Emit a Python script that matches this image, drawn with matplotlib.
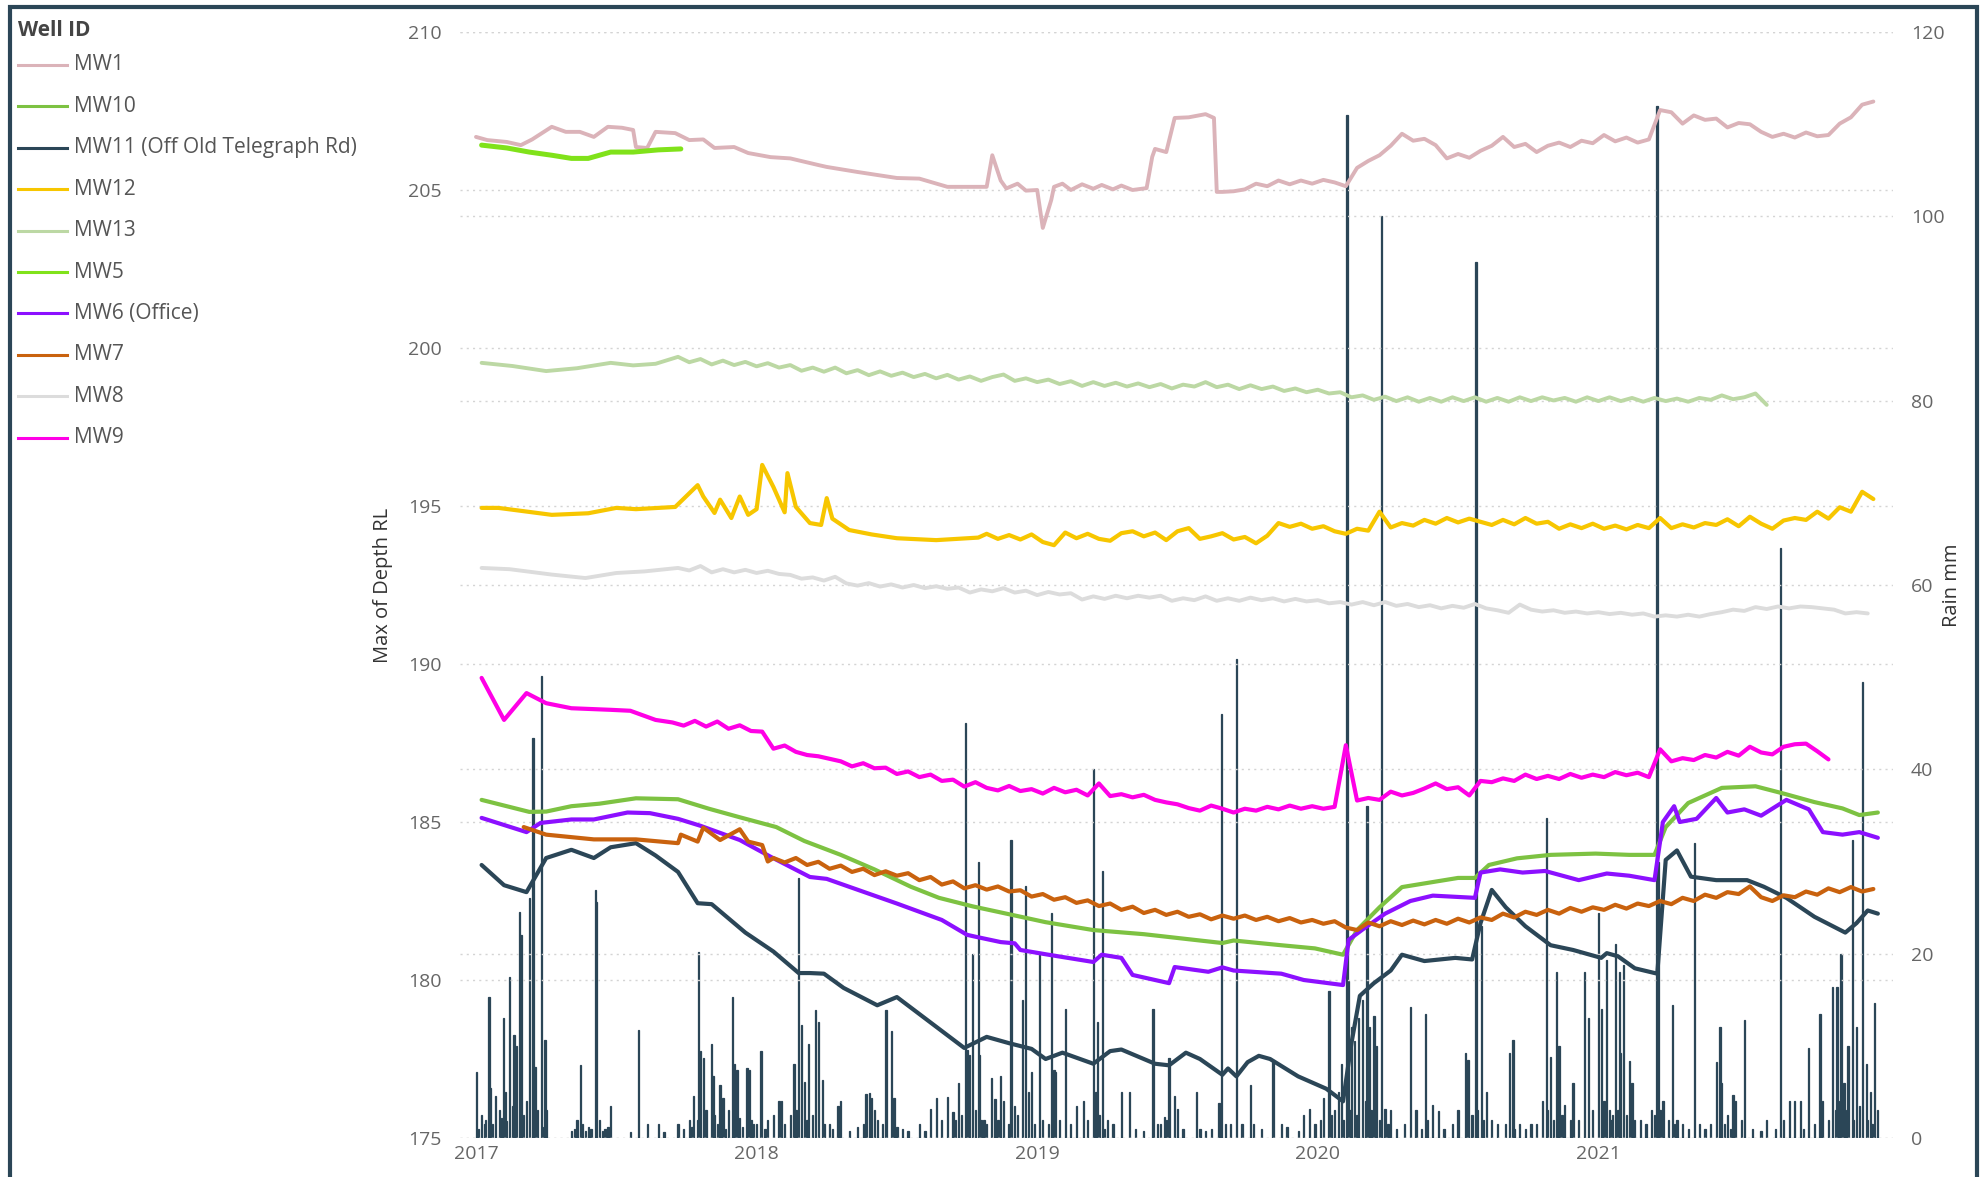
import numpy as np
import matplotlib
matplotlib.use("Agg")
import matplotlib.pyplot as plt
from matplotlib.lines import Line2D
from matplotlib.patches import Rectangle

W, H = 1982, 1177
STEP = 0.04  # logger readings about every two weeks, in years

# groundwater level (Max of Depth RL) per well, time in decimal years.
# *_t/*_v are the irregular readings, *_wk are the regular readings from *_start on.
mw1_t = [2017.0, 2017.04, 2017.11, 2017.16, 2017.2, 2017.27, 2017.32, 2017.37, 2017.42, 2017.47,
         2017.52, 2017.56, 2017.57, 2017.61, 2017.64, 2017.71, 2017.76, 2017.81, 2017.85, 2017.92,
         2017.97, 2018.05, 2018.12, 2018.22, 2018.25, 2018.36, 2018.5, 2018.58, 2018.68, 2018.82,
         2018.84, 2018.87, 2018.89, 2018.93, 2018.96, 2019.0, 2019.02, 2019.05, 2019.06, 2019.09,
         2019.12, 2019.16, 2019.2, 2019.23, 2019.27, 2019.3, 2019.34, 2019.39, 2019.41, 2019.42,
         2019.46, 2019.49, 2019.54, 2019.6, 2019.63, 2019.64]
mw1_v = [206.68, 206.58, 206.52, 206.42, 206.6, 207.0, 206.84, 206.84, 206.68, 207.0,
         206.97, 206.9, 206.36, 206.33, 206.84, 206.8, 206.58, 206.6, 206.33, 206.36,
         206.17, 206.04, 206.0, 205.79, 205.73, 205.57, 205.38, 205.36, 205.1, 205.1,
         206.1, 205.3, 205.05, 205.2, 204.98, 205.0, 203.8, 204.68, 205.1, 205.2,
         205.0, 205.18, 205.04, 205.16, 205.02, 205.14, 205.0, 205.06, 206.05, 206.3,
         206.2, 207.28, 207.3, 207.4, 207.28, 204.94]
mw1_start = 2019.66
mw1_wk = [204.94, 204.96, 205.02, 205.2, 205.12, 205.3, 205.18, 205.3, 205.2, 205.32,
          205.24, 205.12, 205.7, 205.92, 206.1, 206.4, 206.78, 206.56, 206.62, 206.42,
          206.0, 206.14, 206.02, 206.24, 206.4, 206.68, 206.36, 206.46, 206.2, 206.4,
          206.5, 206.36, 206.56, 206.48, 206.74, 206.54, 206.66, 206.5, 206.6, 207.53,
          207.46, 207.1, 207.36, 207.22, 207.26, 206.98, 207.12, 207.08, 206.84, 206.68,
          206.78, 206.66, 206.82, 206.7, 206.74, 207.1, 207.3, 207.7, 207.8]

mw5_t = [2017.02, 2017.11, 2017.19, 2017.27, 2017.34, 2017.4, 2017.48, 2017.56, 2017.65, 2017.73]
mw5_v = [206.42, 206.33, 206.2, 206.1, 206.0, 206.0, 206.2, 206.2, 206.27, 206.3]

mw13_t = [2017.02, 2017.13, 2017.25, 2017.36, 2017.48, 2017.56, 2017.64]
mw13_v = [199.53, 199.43, 199.27, 199.36, 199.53, 199.45, 199.5]
mw13_start = 2017.72
mw13_wk = [199.72, 199.55, 199.65, 199.48, 199.6, 199.46, 199.56, 199.42, 199.52, 199.38,
           199.46, 199.28, 199.38, 199.25, 199.38, 199.2, 199.3, 199.14, 199.26, 199.12,
           199.22, 199.08, 199.18, 199.04, 199.15, 199.0, 199.1, 198.96, 199.08, 199.16,
           198.96, 199.04, 198.92, 199.0, 198.86, 198.95, 198.8, 198.92, 198.8, 198.9,
           198.78, 198.88, 198.76, 198.86, 198.72, 198.84, 198.78, 198.92, 198.76, 198.84,
           198.7, 198.82, 198.7, 198.78, 198.64, 198.72, 198.6, 198.68, 198.56, 198.6,
           198.44, 198.5, 198.36, 198.46, 198.32, 198.44, 198.3, 198.42, 198.3, 198.44,
           198.32, 198.44, 198.3, 198.42, 198.3, 198.44, 198.32, 198.44, 198.34, 198.42,
           198.3, 198.44, 198.32, 198.44, 198.32, 198.42, 198.3, 198.42, 198.32, 198.4,
           198.3, 198.42, 198.36, 198.5, 198.38, 198.44, 198.56, 198.2]

mw12_t = [2017.02, 2017.08, 2017.27, 2017.4, 2017.5, 2017.57, 2017.71, 2017.79, 2017.81, 2017.85,
          2017.87, 2017.91, 2017.94, 2017.97, 2018.0, 2018.02, 2018.06, 2018.1, 2018.11, 2018.14,
          2018.19, 2018.23, 2018.25, 2018.27, 2018.33, 2018.41, 2018.5, 2018.64, 2018.79]
mw12_v = [194.94, 194.94, 194.72, 194.77, 194.94, 194.9, 194.97, 195.66, 195.3, 194.78,
          195.2, 194.62, 195.3, 194.72, 194.9, 196.3, 195.6, 194.8, 196.04, 194.97,
          194.46, 194.4, 195.25, 194.6, 194.24, 194.1, 193.98, 193.92, 194.0]
mw12_start = 2018.82
mw12_wk = [194.12, 193.96, 194.08, 193.94, 194.1, 193.86, 193.76, 194.16, 193.98, 194.12,
           193.96, 193.9, 194.14, 194.2, 194.04, 194.16, 193.92, 194.2, 194.3, 193.96,
           194.04, 194.14, 193.94, 194.02, 193.82, 194.06, 194.46, 194.34, 194.44, 194.28,
           194.36, 194.2, 194.12, 194.28, 194.22, 194.82, 194.32, 194.46, 194.38, 194.56,
           194.44, 194.62, 194.48, 194.6, 194.5, 194.4, 194.56, 194.42, 194.62, 194.44,
           194.5, 194.28, 194.42, 194.3, 194.44, 194.28, 194.38, 194.26, 194.4, 194.3,
           194.62, 194.3, 194.42, 194.32, 194.46, 194.4, 194.58, 194.36, 194.66, 194.44,
           194.28, 194.54, 194.62, 194.56, 194.82, 194.6, 194.96, 194.82, 195.45, 195.22]

mw8_t = [2017.02, 2017.12, 2017.27, 2017.39, 2017.5, 2017.6]
mw8_v = [193.04, 193.0, 192.83, 192.72, 192.88, 192.93]
mw8_start = 2017.72
mw8_wk = [193.04, 192.96, 193.1, 192.9, 193.0, 192.9, 192.98, 192.88, 192.95, 192.85,
          192.82, 192.7, 192.74, 192.64, 192.76, 192.55, 192.48, 192.56, 192.45, 192.52,
          192.42, 192.5, 192.4, 192.46, 192.38, 192.42, 192.26, 192.36, 192.3, 192.4,
          192.26, 192.32, 192.18, 192.28, 192.2, 192.24, 192.04, 192.14, 192.06, 192.16,
          192.08, 192.16, 192.1, 192.16, 192.0, 192.08, 192.02, 192.14, 192.0, 192.08,
          192.0, 192.1, 192.02, 192.08, 191.98, 192.06, 191.98, 192.02, 191.92, 191.96,
          191.88, 191.96, 191.86, 191.96, 191.84, 191.9, 191.8, 191.86, 191.76, 191.84,
          191.78, 191.9, 191.76, 191.7, 191.62, 191.88, 191.72, 191.66, 191.7, 191.62,
          191.66, 191.6, 191.64, 191.58, 191.62, 191.56, 191.6, 191.5, 191.54, 191.5,
          191.56, 191.5, 191.58, 191.64, 191.72, 191.68, 191.8, 191.74, 191.82, 191.76,
          191.82, 191.8, 191.76, 191.72, 191.6, 191.64, 191.6]

mw9_t = [2017.02, 2017.1, 2017.18, 2017.25, 2017.34, 2017.48, 2017.55, 2017.64]
mw9_v = [189.56, 188.23, 189.08, 188.76, 188.6, 188.55, 188.52, 188.23]
mw9_start = 2017.70
mw9_wk = [188.15, 188.05, 188.2, 188.02, 188.18, 187.95, 188.06, 187.88, 187.86, 187.32,
          187.42, 187.22, 187.12, 187.08, 187.0, 186.92, 186.76, 186.86, 186.7, 186.72,
          186.52, 186.6, 186.42, 186.5, 186.3, 186.34, 186.12, 186.26, 186.08, 186.0,
          186.14, 185.98, 186.04, 185.9, 186.08, 185.94, 186.02, 185.84, 186.22, 185.82,
          185.88, 185.78, 185.86, 185.7, 185.62, 185.56, 185.44, 185.36, 185.52, 185.42,
          185.3, 185.42, 185.36, 185.48, 185.4, 185.52, 185.42, 185.5, 185.42, 185.48,
          187.43, 185.68, 185.76, 185.7, 185.96, 185.84, 185.92, 186.06, 186.22, 186.04,
          186.1, 185.84, 186.3, 186.26, 186.38, 186.3, 186.5, 186.36, 186.46, 186.36,
          186.52, 186.4, 186.5, 186.42, 186.58, 186.48, 186.56, 186.42, 187.3, 186.92,
          187.02, 186.96, 187.12, 187.04, 187.22, 187.1, 187.38, 187.2, 187.14, 187.38,
          187.46, 187.48, 187.24, 186.98]

mw10_t = [2017.02, 2017.19, 2017.25, 2017.34, 2017.44, 2017.57, 2017.72, 2017.83, 2017.94, 2018.07,
          2018.17, 2018.3, 2018.42, 2018.55, 2018.65, 2018.77, 2018.89, 2019.03, 2019.2, 2019.38,
          2019.53, 2019.66, 2019.7, 2019.87, 2019.99, 2020.09, 2020.14, 2020.22, 2020.3, 2020.41,
          2020.5, 2020.56, 2020.61, 2020.71, 2020.83, 2020.99, 2021.11, 2021.2, 2021.24, 2021.32,
          2021.44, 2021.56, 2021.66, 2021.77, 2021.87, 2021.93, 2021.996]
mw10_v = [185.7, 185.32, 185.33, 185.5, 185.58, 185.75, 185.72, 185.42, 185.15, 184.84,
          184.4, 183.96, 183.5, 182.95, 182.6, 182.33, 182.1, 181.83, 181.58, 181.45,
          181.3, 181.17, 181.25, 181.1, 181.0, 180.8, 181.58, 182.3, 182.94, 183.1,
          183.23, 183.23, 183.64, 183.85, 183.96, 184.0, 183.96, 183.96, 184.84, 185.6,
          186.08, 186.13, 185.9, 185.63, 185.43, 185.22, 185.3]

mw6_t = [2017.02, 2017.18, 2017.23, 2017.34, 2017.42, 2017.54, 2017.62, 2017.72, 2017.8, 2017.94,
         2018.05, 2018.19, 2018.25, 2018.33, 2018.5, 2018.66, 2018.75, 2018.78, 2018.87, 2018.92,
         2018.94, 2019.04, 2019.2, 2019.23, 2019.3, 2019.34, 2019.47, 2019.49, 2019.61, 2019.66,
         2019.7, 2019.87, 2019.95, 2020.09, 2020.11, 2020.16, 2020.24, 2020.33, 2020.41, 2020.56,
         2020.58, 2020.65, 2020.73, 2020.81, 2020.93, 2021.03, 2021.11, 2021.2, 2021.23, 2021.27,
         2021.29, 2021.35, 2021.42, 2021.46, 2021.52, 2021.58, 2021.67, 2021.75, 2021.8, 2021.87,
         2021.93, 2021.996]
mw6_v = [185.13, 184.68, 184.97, 185.08, 185.08, 185.3, 185.28, 185.1, 184.88, 184.43,
         183.9, 183.26, 183.2, 182.95, 182.42, 181.9, 181.43, 181.37, 181.2, 181.16,
         180.95, 180.8, 180.57, 180.8, 180.7, 180.16, 179.9, 180.41, 180.26, 180.4,
         180.3, 180.2, 180.0, 179.84, 181.27, 181.6, 182.1, 182.5, 182.67, 182.6,
         183.4, 183.5, 183.4, 183.45, 183.16, 183.37, 183.3, 183.16, 185.0, 185.5,
         185.0, 185.1, 185.76, 185.3, 185.4, 185.2, 185.7, 185.4, 184.68, 184.6,
         184.68, 184.5]

mw7_t = [2017.17, 2017.25, 2017.42, 2017.57, 2017.72, 2017.73, 2017.79, 2017.81, 2017.87, 2017.94,
         2017.97, 2018.02, 2018.04]
mw7_v = [184.84, 184.6, 184.45, 184.45, 184.33, 184.6, 184.38, 184.82, 184.43, 184.77,
         184.38, 184.27, 183.75]
mw7_start = 2018.06
mw7_wk = [183.86, 183.72, 183.86, 183.64, 183.74, 183.52, 183.62, 183.42, 183.52, 183.32,
          183.44, 183.3, 183.38, 183.16, 183.26, 183.02, 183.12, 182.9, 183.0, 182.86,
          182.96, 182.8, 182.84, 182.64, 182.72, 182.54, 182.62, 182.44, 182.52, 182.34,
          182.42, 182.22, 182.32, 182.12, 182.22, 182.06, 182.16, 182.0, 182.08, 181.92,
          182.04, 181.94, 182.04, 181.9, 182.0, 181.86, 181.96, 181.82, 181.9, 181.78,
          181.86, 181.66, 181.58, 181.82, 181.7, 181.86, 181.74, 181.88, 181.76, 181.9,
          181.78, 181.94, 181.82, 181.98, 181.9, 182.1, 181.98, 182.16, 182.06, 182.22,
          182.1, 182.28, 182.16, 182.3, 182.22, 182.38, 182.26, 182.42, 182.34, 182.5,
          182.4, 182.6, 182.5, 182.7, 182.6, 182.78, 182.72, 182.96, 182.62, 182.5,
          182.68, 182.62, 182.8, 182.7, 182.9, 182.78, 182.94, 182.8, 182.88]

mw11_t = [2017.02, 2017.1, 2017.18, 2017.25, 2017.34, 2017.42, 2017.48, 2017.57, 2017.64, 2017.72,
          2017.79, 2017.84, 2017.88, 2017.96, 2018.06, 2018.15, 2018.19, 2018.24, 2018.31, 2018.43,
          2018.5, 2018.74, 2018.82, 2018.9, 2018.98, 2019.03, 2019.09, 2019.2, 2019.26, 2019.3,
          2019.42, 2019.47, 2019.53, 2019.58, 2019.66, 2019.68, 2019.71, 2019.75, 2019.79, 2019.83,
          2019.93, 2020.03, 2020.09, 2020.12, 2020.15, 2020.2, 2020.26, 2020.3, 2020.38, 2020.49,
          2020.55, 2020.58, 2020.62, 2020.67, 2020.74, 2020.83, 2020.91, 2021.01, 2021.03, 2021.07,
          2021.13, 2021.21, 2021.24, 2021.28, 2021.33, 2021.42, 2021.53, 2021.59, 2021.67, 2021.77,
          2021.88, 2021.92, 2021.96, 2021.996]
mw11_v = [183.64, 183.0, 182.78, 183.86, 184.12, 183.86, 184.2, 184.33, 183.94, 183.42,
          182.43, 182.4, 182.1, 181.5, 180.9, 180.22, 180.22, 180.2, 179.75, 179.2,
          179.46, 177.85, 178.2, 178.0, 177.82, 177.5, 177.7, 177.35, 177.75, 177.8,
          177.35, 177.3, 177.7, 177.5, 177.0, 177.2, 176.95, 177.4, 177.6, 177.5,
          176.95, 176.56, 176.16, 178.0, 179.5, 179.9, 180.3, 180.8, 180.6, 180.7,
          180.65, 181.8, 182.85, 182.3, 181.7, 181.1, 180.95, 180.7, 180.85, 180.75,
          180.37, 180.2, 183.8, 184.1, 183.27, 183.16, 183.16, 182.95, 182.6, 182.0,
          181.5, 181.8, 182.2, 182.1]

# daily rainfall (mm), wet days
rain_t = [2017.003, 2017.02, 2017.03, 2017.046, 2017.05, 2017.07, 2017.085, 2017.098, 2017.105, 2017.12,
          2017.135, 2017.145, 2017.156, 2017.16, 2017.191, 2017.203, 2017.21, 2017.234, 2017.246, 2017.25,
          2017.36, 2017.372, 2017.38, 2017.40, 2017.425, 2017.43, 2017.44, 2017.47, 2017.48, 2017.58,
          2017.61, 2017.65, 2017.72, 2017.76, 2017.775, 2017.794, 2017.80, 2017.81, 2017.838, 2017.845,
          2017.87, 2017.88, 2017.913, 2017.92, 2017.93, 2017.966, 2017.975, 2017.99, 2018.016, 2018.04,
          2018.08, 2018.09, 2018.133, 2018.149, 2018.16, 2018.17, 2018.185, 2018.21, 2018.22, 2018.235,
          2018.26, 2018.29, 2018.30, 2018.36, 2018.39, 2018.403, 2018.41, 2018.42, 2018.461, 2018.48,
          2018.49, 2018.52, 2018.58, 2018.62, 2018.64, 2018.68, 2018.70, 2018.72, 2018.745, 2018.75,
          2018.76, 2018.77, 2018.79, 2018.795, 2018.81, 2018.838, 2018.85, 2018.87, 2018.88, 2018.907,
          2018.92, 2018.947, 2018.958, 2018.97, 2018.98, 2019.007, 2019.05, 2019.06, 2019.065, 2019.1,
          2019.14, 2019.165, 2019.2, 2019.21, 2019.215, 2019.233, 2019.25, 2019.30, 2019.33, 2019.413,
          2019.44, 2019.455, 2019.47, 2019.49, 2019.50, 2019.568, 2019.58, 2019.648, 2019.657, 2019.67,
          2019.71, 2019.761, 2019.77, 2019.84, 2019.87, 2019.89, 2019.95, 2019.97, 2020.02, 2020.04,
          2020.06, 2020.075, 2020.085, 2020.104, 2020.11, 2020.12, 2020.13, 2020.145, 2020.16, 2020.175,
          2020.185, 2020.2, 2020.21, 2020.228, 2020.24, 2020.26, 2020.33, 2020.35, 2020.385, 2020.39,
          2020.41, 2020.43, 2020.50, 2020.527, 2020.535, 2020.564, 2020.583, 2020.60, 2020.62, 2020.67,
          2020.684, 2020.696, 2020.72, 2020.76, 2020.8, 2020.816, 2020.83, 2020.85, 2020.86, 2020.88,
          2020.91, 2020.95, 2020.965, 2021.0, 2021.01, 2021.03, 2021.045, 2021.06, 2021.075, 2021.08,
          2021.09, 2021.11, 2021.12, 2021.15, 2021.19, 2021.209, 2021.215, 2021.23, 2021.264, 2021.28,
          2021.30, 2021.343, 2021.36, 2021.40, 2021.42, 2021.433, 2021.44, 2021.46, 2021.48, 2021.49,
          2021.52, 2021.6, 2021.65, 2021.68, 2021.70, 2021.72, 2021.75, 2021.79, 2021.80, 2021.835,
          2021.85, 2021.865, 2021.875, 2021.89, 2021.905, 2021.92, 2021.94, 2021.955, 2021.97, 2021.985,
          2021.995]
rain_mm = [7.2, 2.5, 1.5, 15.3, 5.4, 4.6, 3.0, 13.0, 5.0, 17.5,
           11.2, 10.0, 24.5, 22.0, 26.0, 43.4, 7.7, 50.1, 10.6, 3.0,
           2.0, 7.9, 1.5, 1.2, 26.9, 25.6, 2.0, 1.2, 3.5, 11.7,
           1.5, 1.5, 1.5, 2.0, 4.6, 20.2, 9.4, 8.7, 10.2, 6.7,
           5.8, 4.3, 15.3, 8.0, 7.4, 7.6, 7.4, 1.5, 9.4, 2.0,
           4.0, 4.0, 8.0, 28.2, 12.3, 6.1, 10.2, 13.9, 12.6, 6.3,
           1.5, 3.5, 4.0, 1.2, 4.8, 4.9, 4.3, 3.0, 13.9, 11.6,
           4.3, 1.0, 1.5, 3.2, 4.3, 4.5, 2.8, 6.0, 45.0, 9.6,
           9.0, 20.0, 30.0, 9.0, 2.0, 6.5, 4.2, 6.7, 4.0, 32.3,
           3.5, 15.0, 27.3, 5.0, 7.2, 20.0, 24.4, 7.4, 7.2, 14.0,
           3.5, 4.0, 40.0, 5.0, 12.6, 29.0, 2.0, 5.0, 5.0, 14.0,
           1.5, 2.3, 8.7, 4.6, 3.2, 5.0, 1.0, 3.8, 46.0, 1.5,
           52.0, 5.7, 1.5, 8.3, 1.5, 1.2, 2.5, 3.2, 4.3, 16.0,
           3.0, 5.0, 8.0, 111.0, 17.0, 12.0, 10.5, 13.0, 15.0, 36.0,
           12.0, 13.2, 10.0, 100.0, 3.2, 3.0, 14.2, 3.0, 13.5, 2.0,
           3.6, 2.9, 3.0, 9.2, 8.5, 95.0, 23.0, 5.0, 2.0, 1.5,
           9.2, 10.6, 1.5, 1.5, 4.0, 34.7, 8.8, 18.0, 10.0, 3.6,
           6.0, 18.0, 13.0, 24.4, 14.0, 19.3, 2.0, 21.0, 18.0, 9.2,
           18.8, 8.4, 6.0, 2.0, 3.0, 112.0, 30.0, 4.0, 14.4, 2.0,
           1.5, 32.0, 1.5, 1.5, 8.3, 12.0, 6.0, 2.5, 4.7, 4.0,
           12.8, 2.0, 64.0, 4.0, 4.0, 4.0, 9.8, 13.5, 4.0, 16.4,
           16.4, 20.0, 6.0, 10.0, 32.3, 12.0, 49.5, 8.0, 5.0, 14.6,
           3.0]

# light drizzle days
drizzle_t = [2017.01, 2017.035, 2017.06, 2017.09, 2017.11, 2017.13, 2017.17, 2017.18, 2017.22, 2017.24,
             2017.34, 2017.35, 2017.39, 2017.41, 2017.45, 2017.46, 2017.55, 2017.67, 2017.74, 2017.77,
             2017.79, 2017.82, 2017.85, 2017.86, 2017.89, 2017.9, 2017.94, 2017.95, 2017.98, 2018.0,
             2018.03, 2018.06, 2018.1, 2018.12, 2018.14, 2018.18, 2018.2, 2018.24, 2018.27, 2018.33,
             2018.38, 2018.43, 2018.45, 2018.5, 2018.54, 2018.6, 2018.66, 2018.71, 2018.73, 2018.78,
             2018.8, 2018.82, 2018.86, 2018.9, 2018.93, 2018.99, 2019.02, 2019.04, 2019.08, 2019.12,
             2019.18, 2019.22, 2019.24, 2019.27, 2019.35, 2019.38, 2019.43, 2019.46, 2019.52, 2019.6,
             2019.62, 2019.69, 2019.73, 2019.8, 2019.93, 2019.99, 2020.01, 2020.05, 2020.09, 2020.115,
             2020.14, 2020.17, 2020.19, 2020.22, 2020.25, 2020.28, 2020.31, 2020.37, 2020.45, 2020.48,
             2020.55, 2020.57, 2020.59, 2020.64, 2020.7, 2020.74, 2020.78, 2020.82, 2020.84, 2020.87,
             2020.9, 2020.93, 2020.98, 2021.02, 2021.04, 2021.05, 2021.07, 2021.1, 2021.13, 2021.17,
             2021.2, 2021.22, 2021.25, 2021.27, 2021.32, 2021.38, 2021.45, 2021.47, 2021.51, 2021.55,
             2021.58, 2021.63, 2021.66, 2021.73, 2021.77, 2021.82, 2021.845, 2021.86, 2021.88, 2021.91,
             2021.93, 2021.96, 2021.975]
drizzle_mm = [1.0, 2.0, 1.5, 2.2, 1.8, 3.5, 2.5, 4.0, 3.0, 1.2,
              0.8, 1.0, 0.8, 1.0, 0.8, 1.0, 0.6, 0.6, 1.0, 1.2,
              2.0, 3.0, 2.5, 1.5, 1.0, 3.0, 2.2, 1.2, 2.0, 1.5,
              1.0, 2.5, 1.5, 2.5, 3.0, 2.0, 2.5, 1.5, 1.0, 0.8,
              1.5, 2.0, 1.5, 1.2, 0.8, 0.8, 2.0, 2.0, 2.5, 3.0,
              2.0, 1.5, 2.0, 1.5, 2.5, 1.5, 2.0, 1.5, 2.0, 1.5,
              2.0, 2.5, 1.0, 1.5, 1.0, 0.8, 1.5, 2.0, 1.0, 0.8,
              1.0, 1.5, 1.5, 1.0, 0.8, 1.5, 2.0, 2.5, 2.0, 3.0,
              2.5, 4.0, 3.0, 2.0, 1.5, 1.0, 1.5, 1.0, 1.0, 1.5,
              2.5, 3.0, 2.0, 1.5, 1.0, 1.0, 1.5, 3.0, 2.0, 2.5,
              2.0, 2.0, 3.0, 4.0, 3.0, 2.5, 3.0, 2.5, 2.0, 1.5,
              2.5, 3.0, 2.0, 1.5, 1.0, 1.0, 1.5, 1.0, 2.0, 1.0,
              0.8, 1.0, 2.0, 1.0, 1.5, 2.0, 3.0, 4.0, 3.0, 2.0,
              3.5, 2.0, 1.5]


def joined(t, v, start=None, wk=None):
    # irregular readings followed by the regular ones
    if wk is None:
        return t, v
    wk_t = start + STEP * np.arange(len(wk))
    return list(t) + list(wk_t), list(v) + list(wk)


wells = [
    ("MW1", joined(mw1_t, mw1_v, mw1_start, mw1_wk), "#dbb3b9", 2.8),
    ("MW10", joined(mw10_t, mw10_v), "#7dc242", 3.0),
    ("MW11 (Off Old Telegraph Rd)", joined(mw11_t, mw11_v), "#2b4657", 3.0),
    ("MW12", joined(mw12_t, mw12_v, mw12_start, mw12_wk), "#f7c600", 3.0),
    ("MW13", joined(mw13_t, mw13_v, mw13_start, mw13_wk), "#bcd8a4", 2.8),
    ("MW5", joined(mw5_t, mw5_v), "#80e21a", 3.6),
    ("MW6 (Office)", joined(mw6_t, mw6_v), "#8c10ff", 3.0),
    ("MW7", joined(mw7_t, mw7_v, mw7_start, mw7_wk), "#c9620e", 3.0),
    ("MW8", joined(mw8_t, mw8_v, mw8_start, mw8_wk), "#dcdcdc", 2.8),
    ("MW9", joined(mw9_t, mw9_v, mw9_start, mw9_wk), "#ff00e6", 3.0),
]
slate = "#2b4657"
tick_grey = "#666666"
font = ["Open Sans", "DejaVu Sans"]


def fx(x):
    return x / W


def fy(y):
    return 1 - y / H


fig = plt.figure(figsize=(W / 100, H / 100), dpi=100)
fig.patch.set_facecolor("white")

ax = fig.add_axes([fx(460), fy(1138), (1893 - 460) / W, (1138 - 32) / H])
ax2 = ax.twinx()
ax.set_zorder(ax2.get_zorder() + 1)
ax.patch.set_visible(False)

ax2.bar(rain_t + drizzle_t, rain_mm + drizzle_mm, width=0.0045,
        color=slate, edgecolor=slate, linewidth=0.9)

for name, (t, v), c, lw in wells:
    ax.plot(t, v, color=c, lw=lw, solid_joinstyle="round", solid_capstyle="round")

ax.set_xlim(2016.943, 2022.05)
ax.set_ylim(175, 210)
ax2.set_ylim(0, 120)

ax.set_xticks([2017, 2018, 2019, 2020, 2021])
ax.set_xticklabels(["2017", "2018", "2019", "2020", "2021"])
ax.set_yticks([175, 180, 185, 190, 195, 200, 205, 210])
ax2.set_yticks([0, 20, 40, 60, 80, 100, 120])

for a in (ax, ax2):
    for s in a.spines.values():
        s.set_visible(False)
    a.tick_params(length=0, labelsize=14, labelcolor=tick_grey)
    a.grid(axis="y", color="#d4d4d4", lw=1.0, linestyle=(0, (1.5, 3)))
    for lab in a.get_xticklabels() + a.get_yticklabels():
        lab.set_family(font)
ax.tick_params(axis="x", pad=5)
ax.tick_params(axis="y", pad=13)
ax2.tick_params(axis="y", pad=13)

ax.set_ylabel("Max of Depth RL", fontsize=14.5, color="#333333", family=font)
ax.yaxis.set_label_coords(-0.047, 0.5)
ax2.set_ylabel("Rain mm", fontsize=14.5, color="#333333", family=font)
ax2.yaxis.set_label_coords(1.034, 0.5)

# legend
fig.text(fx(18), fy(30), "Well ID", fontsize=15, fontweight="bold", color="#444444",
         family=font, va="center", ha="left")
for i, (name, tv, c, lw) in enumerate(wells):
    y = 65 + 41.4 * i
    fig.add_artist(Line2D([fx(18), fx(67)], [fy(y), fy(y)], color=c, lw=2.2))
    fig.text(fx(74), fy(y), name, fontsize=15, color="#555555", family=font,
             va="center", ha="left")

# outer frame
fig.add_artist(Rectangle((fx(10), fy(1200)), fx(1967), (1200 - 7) / H,
                         fill=False, edgecolor=slate, lw=3, transform=fig.transFigure))

fig.savefig("out.png", dpi=100)
